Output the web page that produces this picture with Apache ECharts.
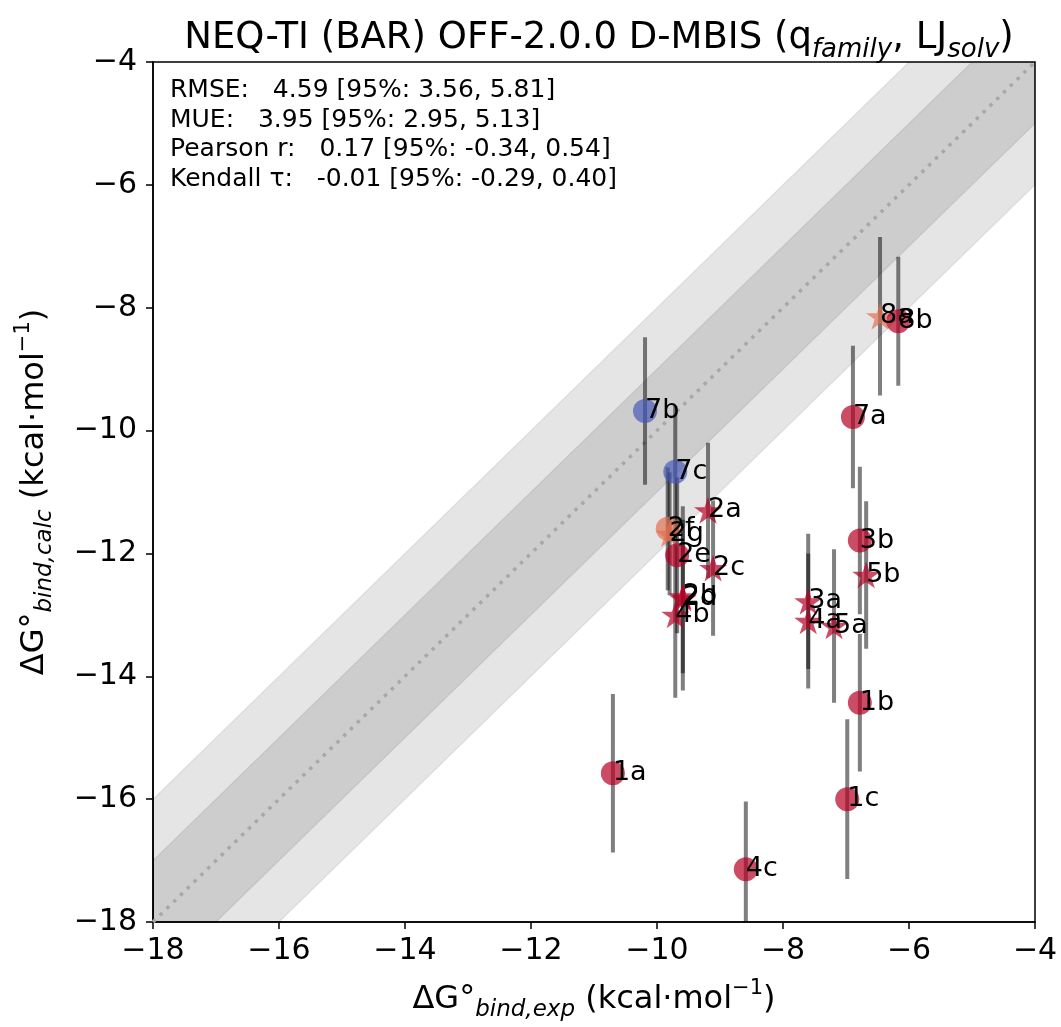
<!DOCTYPE html>
<html>
<head>
<meta charset="utf-8">
<script src="https://cdn.jsdelivr.net/npm/echarts@6/dist/echarts.min.js"></script>
<style>
html,body{margin:0;padding:0;background:#fff;overflow:hidden;}
#chart{width:1061px;height:1027px;}
</style>
</head>
<body>
<div id="chart"></div>
<script>
// ---- data ----
var labels     = ['7b','7c','2f','2g','2e','2a','2c','2b','2d','4b','1a','4c','1c','1b','5a','4a','3a','5b','3b','7a','8a','8b'];
var expValues  = [-10.19,-9.71,-9.83,-9.80,-9.68,-9.19,-9.11,-9.59,-9.59,-9.71,-10.70,-8.59,-6.98,-6.78,-7.19,-7.60,-7.60,-6.68,-6.78,-6.89,-6.46,-6.17];
var calcValues = [-9.68,-10.67,-11.60,-11.68,-12.03,-11.30,-12.24,-12.70,-12.73,-13.00,-15.58,-17.14,-16.00,-14.43,-13.18,-13.10,-12.78,-12.35,-11.79,-9.78,-8.14,-8.22];
var calcErrors = [1.20,1.07,1.00,1.00,1.27,1.10,1.10,1.25,1.50,1.35,1.29,1.10,1.30,1.12,1.25,1.10,1.10,1.20,1.20,1.16,1.29,1.05];
var markerShapes = ['circle','circle','circle','star','circle','star','star','star','star','star','circle','circle','circle','circle','star','star','star','star','circle','circle','star','circle'];
var colorGroups  = ['blue','blue','orange','orange','red','red','red','red','red','red','red','red','red','red','red','red','red','red','red','red','orange','red'];
var axisMin = -18, axisMax = -4, tickStep = 2;
var bandWidths = [2, 1];
var statsLines = [
  'RMSE:   4.59 [95%: 3.56, 5.81]',
  'MUE:   3.95 [95%: 2.95, 5.13]',
  'Pearson r:   0.17 [95%: -0.34, 0.54]',
  'Kendall \u03C4:   -0.01 [95%: -0.29, 0.40]'
];

// ---- styling helpers ----
var palette = {
  red: 'rgba(182,0,36,0.88)',
  blue: 'rgba(68,86,182,0.85)',
  orange: 'rgba(226,110,78,0.85)'
};
function starPath(){
  var pts = [];
  for (var i = 0; i < 10; i++) {
    var a = (-90 + 36 * i) * Math.PI / 180;
    var r = (i % 2 === 0) ? 100 : 38.2;
    pts.push((r * Math.cos(a)).toFixed(2) + ',' + (r * Math.sin(a)).toFixed(2));
  }
  return 'path://M' + pts.join('L') + 'Z';
}
var STAR = starPath();
var FONT = 'DejaVu Sans';
var CIRCLE_SIZE = 24, STAR_SIZE = 28;

var chart = echarts.init(document.getElementById('chart'), null, {renderer: 'canvas'});

var scatterData = labels.map(function(l, i){
  var isStar = markerShapes[i] === 'star';
  return {
    name: l,
    value: [expValues[i], calcValues[i]],
    symbol: isStar ? STAR : 'circle',
    symbolSize: isStar ? STAR_SIZE : CIRCLE_SIZE,
    itemStyle: {color: palette[colorGroups[i]]}
  };
});
var errData = labels.map(function(l, i){ return [expValues[i], calcValues[i], calcErrors[i]]; });

function fmt(v){ return String(v).replace('-', '\u2212'); }

var richName = {
  n: {fontSize: 32, fontFamily: FONT, color: '#000', lineHeight: 44, verticalAlign: 'middle'},
  sub: {fontSize: 23, fontFamily: FONT, fontStyle: 'italic', color: '#000', lineHeight: 22, verticalAlign: 'bottom'},
  sup: {fontSize: 21, fontFamily: FONT, color: '#000', lineHeight: 21, verticalAlign: 'top'}
};

var option = {
  backgroundColor: '#fff',
  animation: false,
  title: {
    text: '{n|NEQ-TI (BAR) OFF-2.0.0 D-MBIS (q}{sub|family}{n|, LJ}{sub|solv}{n|)}',
    left: 594, top: 8, textAlign: 'center',
    textStyle: {
      fontWeight: 'normal',
      rich: {
        n: {fontSize: 37, fontFamily: FONT, fontWeight: 'normal', color: '#000', lineHeight: 50, verticalAlign: 'middle'},
        sub: {fontSize: 26, fontFamily: FONT, fontWeight: 'normal', fontStyle: 'italic', color: '#000', lineHeight: 24, verticalAlign: 'bottom'}
      }
    }
  },
  grid: {left: 153, right: 26, top: 62, bottom: 102, show: true, borderColor: '#000', borderWidth: 1.5, backgroundColor: 'transparent'},
  xAxis: {
    type: 'value', min: axisMin, max: axisMax, interval: tickStep,
    axisLine: {show: true, onZero: false, lineStyle: {color: '#000', width: 1.5}},
    axisTick: {show: true, length: 7, lineStyle: {color: '#000', width: 1.5}},
    splitLine: {show: false},
    axisLabel: {fontSize: 30, fontFamily: FONT, color: '#000', margin: 14, formatter: fmt},
    name: '{n|\u0394G\u00B0}{sub|bind,exp}{n| (kcal\u00B7mol}{sup|\u22121}{n|)}',
    nameLocation: 'middle', nameGap: 56,
    nameTextStyle: {rich: richName}
  },
  yAxis: {
    type: 'value', min: axisMin, max: axisMax, interval: tickStep,
    axisLine: {show: true, onZero: false, lineStyle: {color: '#000', width: 1.5}},
    axisTick: {show: true, length: 7, lineStyle: {color: '#000', width: 1.5}},
    splitLine: {show: false},
    axisLabel: {fontSize: 30, fontFamily: FONT, color: '#000', margin: 16, formatter: fmt},
    name: '{n|\u0394G\u00B0}{sub|bind,calc}{n| (kcal\u00B7mol}{sup|\u22121}{n|)}',
    nameLocation: 'middle', nameGap: 96, nameRotate: 90,
    nameTextStyle: {rich: richName}
  },
  graphic: [{
    type: 'text', left: 170, top: 76, z: 100,
    style: {
      text: statsLines.join('\n'),
      font: '25px "DejaVu Sans"',
      lineHeight: 29.5,
      fill: '#000'
    }
  }],
  series: [
    {
      type: 'custom', clip: true, z: 1, silent: true,
      data: bandWidths.map(function(w){ return [w, 0]; }),
      renderItem: function(params, api){
        var w = api.value(0);
        var pts = [
          api.coord([axisMin, axisMin - w]),
          api.coord([axisMax, axisMax - w]),
          api.coord([axisMax, axisMax + w]),
          api.coord([axisMin, axisMin + w])
        ];
        return {
          type: 'polygon',
          shape: {points: pts},
          style: {fill: 'rgba(0,0,0,0.1)', stroke: 'rgba(0,0,0,0.07)', lineWidth: 1.5}
        };
      }
    },
    {
      type: 'line', z: 2, silent: true, symbol: 'none',
      data: [[axisMin, axisMin], [axisMax, axisMax]],
      lineStyle: {color: '#a8a8a8', width: 3.5, type: [3.5, 6], cap: 'butt'}
    },
    {
      type: 'custom', clip: true, z: 3, silent: true,
      data: errData,
      renderItem: function(params, api){
        var x = api.value(0), y = api.value(1), e = api.value(2);
        var p1 = api.coord([x, y - e]);
        var p2 = api.coord([x, y + e]);
        return {
          type: 'line',
          shape: {x1: p1[0], y1: p1[1], x2: p2[0], y2: p2[1]},
          style: {stroke: 'rgba(0,0,0,0.5)', lineWidth: 4, lineCap: 'butt'}
        };
      }
    },
    {
      type: 'scatter', z: 4,
      symbolKeepAspect: true,
      data: scatterData,
      label: {
        show: true, position: 'inside', align: 'left', verticalAlign: 'middle',
        offset: [2, -7], opacity: 1,
        formatter: '{b}', fontSize: 27, fontFamily: FONT, color: '#000', textBorderWidth: 0
      },
      labelLayout: {hideOverlap: false}
    }
  ]
};
chart.setOption(option);
</script>
</body>
</html>
